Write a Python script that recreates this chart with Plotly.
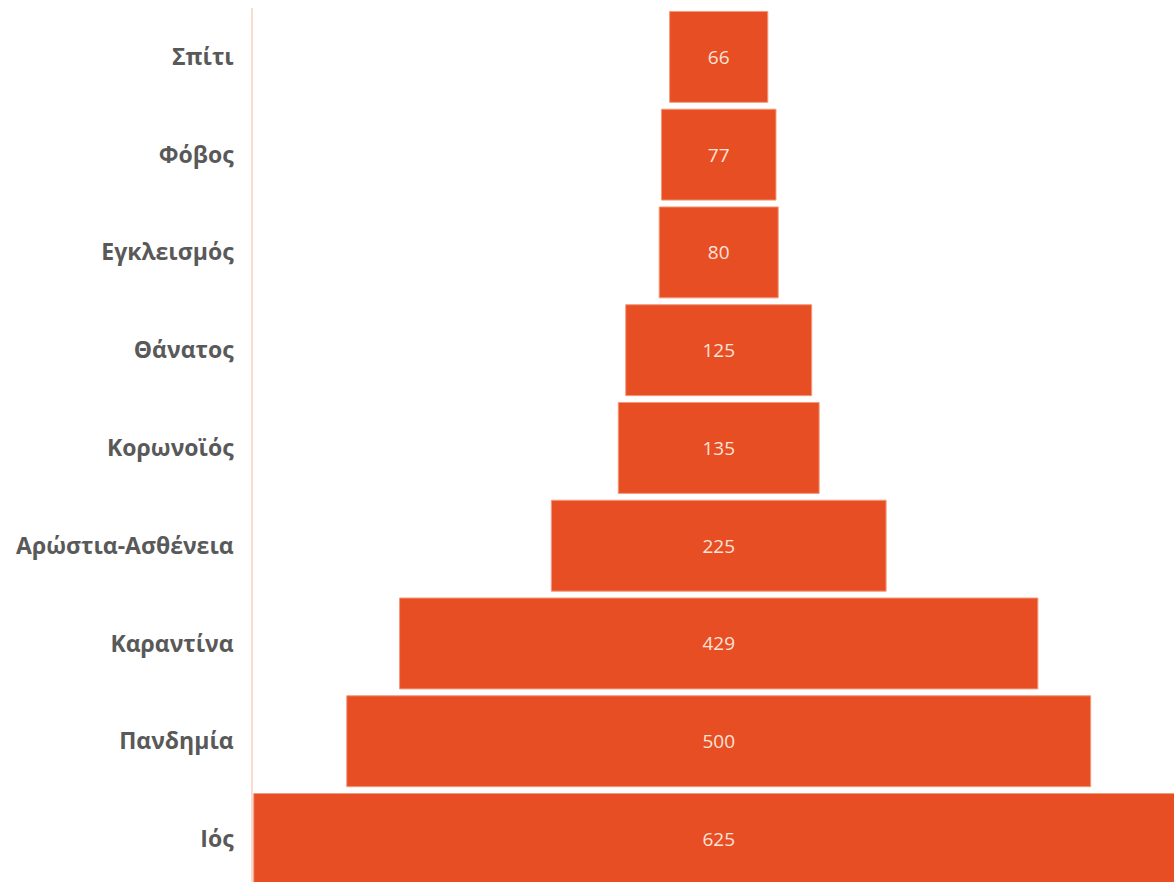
import plotly.graph_objects as go

# Word frequencies, listed top to bottom
words = ["Σπίτι", "Φόβος", "Εγκλεισμός", "Θάνατος", "Κορωνοϊός",
         "Αρώστια-Ασθένεια", "Καραντίνα", "Πανδημία", "Ιός"]
counts = [66, 77, 80, 125, 135, 225, 429, 500, 625]

bar_color = "#E84E23"
edge_color = "#F29A7C"
label_gray = "#595959"

fig = go.Figure(
    go.Funnel(
        y=words,
        x=counts,
        text=[str(c) for c in counts],
        textinfo="text",
        textposition="inside",
        insidetextanchor="middle",
        textfont=dict(family="Open Sans", size=19, color="#FBE3D9"),
        marker=dict(color=bar_color, line=dict(color=edge_color, width=1)),
        connector=dict(visible=False),
        hoverinfo="x+y",
    )
)

fig.update_layout(
    width=1174,
    height=882,
    margin=dict(l=253, r=0, t=8, b=0),
    paper_bgcolor="white",
    plot_bgcolor="white",
    showlegend=False,
    funnelgap=0.07,
    uniformtext=dict(minsize=19, mode="show"),
    xaxis=dict(
        range=[-313, 306],
        visible=False,
        showgrid=False,
        zeroline=False,
    ),
    yaxis=dict(
        range=[8.44, -0.5],
        autorange=False,
        showline=True,
        linecolor="#FADBD0",
        linewidth=1.5,
        showgrid=False,
        zeroline=False,
        ticks="",
        ticklabelstandoff=13,
        tickfont=dict(family="Open Sans", size=23, color=label_gray, weight="bold"),
    ),
)

fig.write_html("out.html")
